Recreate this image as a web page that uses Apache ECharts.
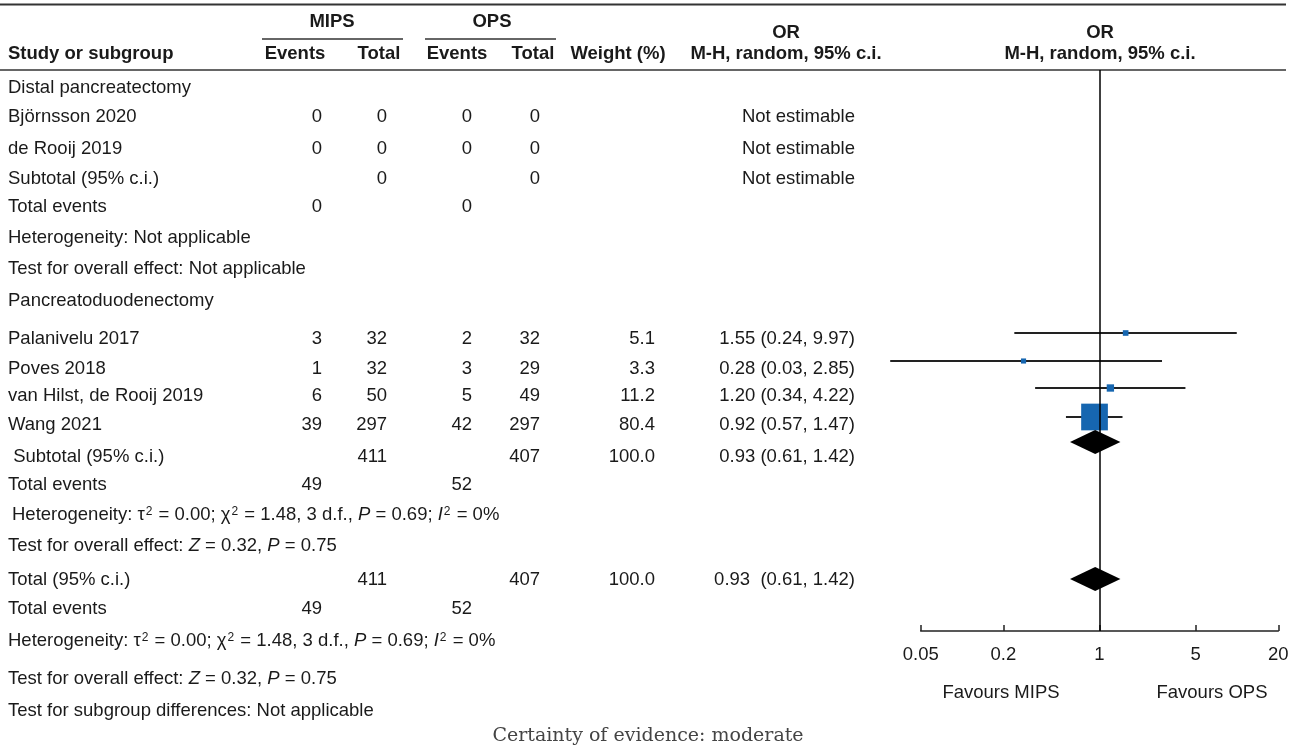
<!DOCTYPE html>
<html><head><meta charset="utf-8">
<script src="https://cdn.jsdelivr.net/npm/echarts@6/dist/echarts.min.js"></script>
<style>html,body{margin:0;padding:0;background:#fff}#c{width:1301px;height:746px}</style>
</head><body><div id="c"></div>
<script>
// ---------------- data ----------------
const distalStudies = ['Björnsson 2020', 'de Rooij 2019'];
const distalMipsEvents = [0, 0];
const distalMipsTotal = [0, 0];
const distalOpsEvents = [0, 0];
const distalOpsTotal = [0, 0];
const distalSubMipsTotal = 0;
const distalSubOpsTotal = 0;

const pdStudies = ['Palanivelu 2017', 'Poves 2018', 'van Hilst, de Rooij 2019', 'Wang 2021'];
const pdMipsEvents = [3, 1, 6, 39];
const pdMipsTotal = [32, 32, 50, 297];
const pdOpsEvents = [2, 3, 5, 42];
const pdOpsTotal = [32, 29, 49, 297];
const pdWeight = [5.1, 3.3, 11.2, 80.4];
const pdOR = [1.55, 0.28, 1.20, 0.92];
const pdLow = [0.24, 0.03, 0.34, 0.57];
const pdHigh = [9.97, 2.85, 4.22, 1.47];

const pooledLabels = [' Subtotal (95% c.i.)', 'Total (95% c.i.)'];
const pooledMipsTotal = [411, 411];
const pooledOpsTotal = [407, 407];
const pooledWeight = [100.0, 100.0];
const pooledOR = [0.93, 0.93];
const pooledLow = [0.61, 0.61];
const pooledHigh = [1.42, 1.42];

const totalEventsMips = [0, 49, 49];
const totalEventsOps = [0, 52, 52];

const axisTicks = [0.05, 0.2, 1, 5, 20];

// ---------------- layout ----------------
const FONT = '"Liberation Sans", Arial, sans-serif';
const FS = 18.5;
const TXT = '#1a1a1a';
const col = {label: 8, me: 322, mt: 387, oe: 472, ot: 540, w: 655, or: 855};
const rowY = {
  distal: 88, dStudies: [117, 149], dSub: 179, dTE: 207, dHet: 238, dTest: 269,
  pd: 301, pStudies: [339, 369, 396, 425], pSub: 457, pTE: 485, pHet: 515, pTest: 546,
  total: 580, tTE: 609, tHet: 641, tTest: 679, sub: 711, cert: 736
};
const plotRowY = [333, 361, 388, 417];
const pooledPlotY = [442, 579];

// ---------------- graphic text ----------------
const richBase = {
  n: {fontFamily: FONT, fontSize: FS, fill: TXT, color: TXT, verticalAlign: 'middle'},
  i: {fontFamily: FONT, fontSize: FS, fontStyle: 'italic', fill: TXT, color: TXT, verticalAlign: 'middle'},
  s: {fontFamily: FONT, fontSize: 12, fill: TXT, color: TXT, verticalAlign: 'top', padding: [0, 1, 0, 1]}
};
const G = [];
function txt(x, y, s, align, opt) {
  opt = opt || {};
  const st = {
    text: s, x: x, y: y,
    font: (opt.bold ? 'bold ' : '') + (opt.size || FS) + 'px ' + (opt.family || FONT),
    fill: opt.color || TXT,
    align: align || 'left', textAlign: align || 'left',
    verticalAlign: 'middle', textVerticalAlign: 'middle'
  };
  if (opt.rich) st.rich = richBase;
  G.push({type: 'text', silent: true, style: st});
}
function hline(x1, x2, y, w, c) {
  G.push({type: 'line', silent: true, shape: {x1: x1, y1: y, x2: x2, y2: y}, style: {stroke: c || '#333', lineWidth: w || 1.5}});
}
const fmt2 = v => v.toFixed(2);
const fmt1 = v => v.toFixed(1);
const HB = {bold: true, size: 18.5};

// header
hline(0, 1286, 4.5, 2);
hline(0, 1286, 70, 1.5);
hline(262, 403, 39, 1.5);
hline(425, 556, 39, 1.5);
txt(332, 22, 'MIPS', 'center', HB);
txt(492, 22, 'OPS', 'center', HB);
txt(col.label, 54, 'Study or subgroup', 'left', HB);
txt(295, 54, 'Events', 'center', HB);
txt(379, 54, 'Total', 'center', HB);
txt(457, 54, 'Events', 'center', HB);
txt(533, 54, 'Total', 'center', HB);
txt(618, 54, 'Weight (%)', 'center', HB);
txt(786, 33, 'OR', 'center', HB);
txt(786, 54, 'M-H, random, 95% c.i.', 'center', HB);
txt(1100, 33, 'OR', 'center', HB);
txt(1100, 54, 'M-H, random, 95% c.i.', 'center', HB);

// distal pancreatectomy
txt(col.label, rowY.distal, 'Distal pancreatectomy');
distalStudies.forEach((s, i) => {
  const y = rowY.dStudies[i];
  txt(col.label, y, s);
  txt(col.me, y, String(distalMipsEvents[i]), 'right');
  txt(col.mt, y, String(distalMipsTotal[i]), 'right');
  txt(col.oe, y, String(distalOpsEvents[i]), 'right');
  txt(col.ot, y, String(distalOpsTotal[i]), 'right');
  txt(col.or, y, 'Not estimable', 'right');
});
txt(col.label, rowY.dSub, 'Subtotal (95% c.i.)');
txt(col.mt, rowY.dSub, String(distalSubMipsTotal), 'right');
txt(col.ot, rowY.dSub, String(distalSubOpsTotal), 'right');
txt(col.or, rowY.dSub, 'Not estimable', 'right');
txt(col.label, rowY.dTE, 'Total events');
txt(col.me, rowY.dTE, String(totalEventsMips[0]), 'right');
txt(col.oe, rowY.dTE, String(totalEventsOps[0]), 'right');
txt(col.label, rowY.dHet, 'Heterogeneity: Not applicable');
txt(col.label, rowY.dTest, 'Test for overall effect: Not applicable');

// pancreatoduodenectomy
txt(col.label, rowY.pd, 'Pancreatoduodenectomy');
pdStudies.forEach((s, i) => {
  const y = rowY.pStudies[i];
  txt(col.label, y, s);
  txt(col.me, y, String(pdMipsEvents[i]), 'right');
  txt(col.mt, y, String(pdMipsTotal[i]), 'right');
  txt(col.oe, y, String(pdOpsEvents[i]), 'right');
  txt(col.ot, y, String(pdOpsTotal[i]), 'right');
  txt(col.w, y, fmt1(pdWeight[i]), 'right');
  txt(col.or, y, fmt2(pdOR[i]) + ' (' + fmt2(pdLow[i]) + ', ' + fmt2(pdHigh[i]) + ')', 'right');
});
const hetText = '{n|Heterogeneity: τ}{s|2}{n| = 0.00; χ}{s|2}{n| = 1.48, 3 d.f., }{i|P}{n| = 0.69; }{i|I}{s|2}{n| = 0%}';
const testText = '{n|Test for overall effect: }{i|Z}{n| = 0.32, }{i|P}{n| = 0.75}';
[0, 1].forEach(k => {
  const yS = k === 0 ? rowY.pSub : rowY.total;
  txt(col.label, yS, pooledLabels[k]);
  txt(col.mt, yS, String(pooledMipsTotal[k]), 'right');
  txt(col.ot, yS, String(pooledOpsTotal[k]), 'right');
  txt(col.w, yS, fmt1(pooledWeight[k]), 'right');
  txt(col.or, yS, fmt2(pooledOR[k]) + (k === 0 ? ' (' : '  (') + fmt2(pooledLow[k]) + ', ' + fmt2(pooledHigh[k]) + ')', 'right');
  const yTE = k === 0 ? rowY.pTE : rowY.tTE;
  txt(col.label, yTE, 'Total events');
  txt(col.me, yTE, String(totalEventsMips[k + 1]), 'right');
  txt(col.oe, yTE, String(totalEventsOps[k + 1]), 'right');
  txt(k === 0 ? 12 : col.label, k === 0 ? rowY.pHet : rowY.tHet, hetText, 'left', {rich: true});
  txt(col.label, k === 0 ? rowY.pTest : rowY.tTest, testText, 'left', {rich: true});
});
txt(col.label, rowY.sub, 'Test for subgroup differences: Not applicable');
txt(648, rowY.cert, 'Certainty of evidence: moderate', 'center', {family: '"DejaVu Serif", serif', size: 19, color: '#444'});

// axis captions
txt(1001, 693, 'Favours MIPS', 'center');
txt(1212, 693, 'Favours OPS', 'center');

// ---------------- forest series ----------------
const studyData = pdOR.map((v, i) => [v, pdLow[i], pdHigh[i], pdWeight[i], plotRowY[i]]);
const pooledData = pooledOR.map((v, i) => [v, pooledLow[i], pooledHigh[i], pooledWeight[i], pooledPlotY[i]]);

function renderStudy(params, api) {
  const o = api.value(0), lo = api.value(1), hi = api.value(2), w = api.value(3), y = api.value(4);
  const pL = api.coord([lo, y]), pH = api.coord([hi, y]), pC = api.coord([o, y]);
  const s = 4.2 + 0.28 * w;
  return {type: 'group', children: [
    {type: 'line', shape: {x1: pL[0], y1: pL[1], x2: pH[0], y2: pH[1]}, style: {stroke: '#222', lineWidth: 2}},
    {type: 'rect', shape: {x: pC[0] - s / 2, y: pC[1] - s / 2, width: s, height: s}, style: {fill: '#1666b0'}}
  ]};
}
function renderDiamond(params, api) {
  const o = api.value(0), lo = api.value(1), hi = api.value(2), y = api.value(4);
  const pL = api.coord([lo, y]), pH = api.coord([hi, y]), pC = api.coord([o, y]);
  const h = 12;
  return {type: 'polygon', shape: {points: [[pL[0], pL[1]], [pC[0], pC[1] - h], [pH[0], pH[1]], [pC[0], pC[1] + h]]}, style: {fill: '#000'}};
}

const chart = echarts.init(document.getElementById('c'), null, {renderer: 'canvas'});
chart.setOption({
  animation: false,
  backgroundColor: '#fff',
  grid: {left: 920.7, right: 22.7, top: 70, bottom: 115, containLabel: false},
  xAxis: {
    type: 'log', logBase: 10, min: 0.05, max: 20,
    axisLine: {show: true, lineStyle: {color: '#222', width: 1.5}},
    axisTick: {show: true, inside: true, length: 6, lineStyle: {color: '#222', width: 1.5}, customValues: axisTicks},
    axisLabel: {show: true, margin: 14, color: TXT, fontSize: FS, fontFamily: FONT, customValues: axisTicks,
      formatter: v => String(+(+v).toPrecision(6))},
    splitLine: {show: false}
  },
  yAxis: {type: 'value', min: 70, max: 631, inverse: true, show: false},
  series: [
    {type: 'custom', clip: false, renderItem: renderStudy, data: studyData, encode: {x: [0, 1, 2], y: 4}, silent: true,
      markLine: {silent: true, symbol: 'none', label: {show: false}, lineStyle: {color: '#000', width: 1.5, type: 'solid'}, data: [{xAxis: 1}]}},
    {type: 'custom', clip: false, renderItem: renderDiamond, data: pooledData, encode: {x: [0, 1, 2], y: 4}, silent: true}
  ],
  graphic: G
});
</script>
</body></html>
